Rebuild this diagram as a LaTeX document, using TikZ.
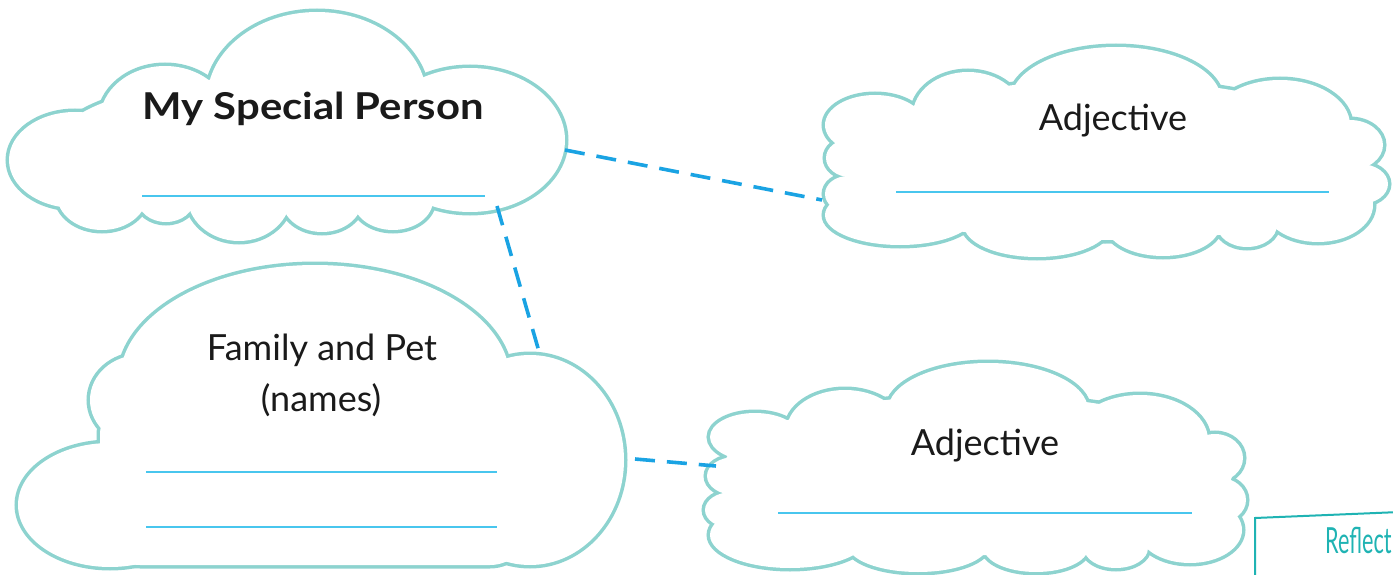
\documentclass[tikz,border=0pt]{standalone}
\usepackage{fontspec}
\setmainfont{Lato}
\usepackage{graphicx}
\definecolor{cloudc}{HTML}{8DD3CF}
\definecolor{dashc}{HTML}{1AA3E3}
\definecolor{rulec}{HTML}{48C6EE}
\definecolor{reflectc}{HTML}{1FB3B3}
\definecolor{inkc}{HTML}{1A1A1A}
\tikzset{
  cloudstroke/.style={draw=cloudc, line width=7pt},
  cloudfill/.style={fill=white},
  conn/.style={draw=dashc, line width=3.6pt, dash pattern=on 20pt off 12pt},
  blank/.style={draw=rulec, line width=2pt},
  lbl/.style={text=inkc, font=\fontsize{36}{40}\selectfont, anchor=base, inner sep=0pt},
  reflectbox/.style={draw=reflectc, line width=2pt},
}
\def\cloudA{317/100/110/88, 165/120/65/54, 75/160/66/48, 470/140/95/72,
  393/200/40/30, 322/200/40/32, 239/195/52/46, 166/200/28/22, 102/195/45/35,
  300/140/240/65}
\def\cloudB{315/380/195/115, 140/400/50/45, 110/505/92/62, 530/460/94/105}
\def\cloudC{968/115/55/43, 1116/100/105/53, 1280/125/70/45, 875/125/50/30,
  850/158/24/19, 848/194/23/18, 900/215/75/30, 1037/225/73/32, 1163/225/57/31,
  1247/225/30/22, 1318/205/55/37, 1360/184/28/20, 1350/145/33/25, 1105/160/260/80,
  1105/205/220/35}
\def\cloudD{988/410/100/47, 845/430/58/40, 1140/440/68/45, 755/437/45/24,
  735/476/28/19, 732/510/27/18, 790/535/80/33, 918/545/70/27, 1036/548/52/24,
  1116/548/32/20, 1190/530/52/33, 1220/500/26/22, 1215/458/28/24, 978/470/255/75,
  985/525/200/30}
\begin{document}
\begin{tikzpicture}[x=1pt, y=1pt]
\useasboundingbox (0,0) rectangle (1393,-575);
% cloud outlines (union of lobes)
\foreach \cx/\cy/\rx/\ry in \cloudA {\path[cloudstroke] (\cx,-\cy) ellipse [x radius=\rx pt, y radius=\ry pt];}
\foreach \cx/\cy/\rx/\ry in \cloudB {\path[cloudstroke] (\cx,-\cy) ellipse [x radius=\rx pt, y radius=\ry pt];}
\path[cloudstroke, rounded corners=40pt] (100,-395) rectangle (530,-565);
\foreach \cx/\cy/\rx/\ry in \cloudC {\path[cloudstroke] (\cx,-\cy) ellipse [x radius=\rx pt, y radius=\ry pt];}
\foreach \cx/\cy/\rx/\ry in \cloudD {\path[cloudstroke] (\cx,-\cy) ellipse [x radius=\rx pt, y radius=\ry pt];}
% cloud interiors
\foreach \cx/\cy/\rx/\ry in \cloudA {\path[cloudfill] (\cx,-\cy) ellipse [x radius=\rx pt, y radius=\ry pt];}
\foreach \cx/\cy/\rx/\ry in \cloudB {\path[cloudfill] (\cx,-\cy) ellipse [x radius=\rx pt, y radius=\ry pt];}
\path[cloudfill, rounded corners=40pt] (100,-395) rectangle (530,-565);
\foreach \cx/\cy/\rx/\ry in \cloudC {\path[cloudfill] (\cx,-\cy) ellipse [x radius=\rx pt, y radius=\ry pt];}
\foreach \cx/\cy/\rx/\ry in \cloudD {\path[cloudfill] (\cx,-\cy) ellipse [x radius=\rx pt, y radius=\ry pt];}
% texts
\node[lbl, font=\fontsize{37}{40}\selectfont\bfseries] (t1) at (313,-120) {\scalebox{1.13}[1]{My Special Person}};
\node[lbl] (t2a) at (322,-360) {Family and Pet};
\node[lbl] (t2b) at (321,-411) {(names)};
\node[lbl] (t3) at (1113,-131) {Adjective};
\node[lbl] (t4) at (985,-455) {Adjective};
% writing lines
\coordinate (l1a) at (142,-196); \coordinate (l1b) at (485,-196);
\coordinate (l2a) at (146,-472); \coordinate (l2b) at (497,-472);
\coordinate (l3a) at (146,-527); \coordinate (l3b) at (497,-527);
\coordinate (l4a) at (896,-192); \coordinate (l4b) at (1329,-192);
\coordinate (l5a) at (778,-513); \coordinate (l5b) at (1192,-513);
\draw[blank] (l1a) -- (l1b);
\draw[blank] (l2a) -- (l2b);
\draw[blank] (l3a) -- (l3b);
\draw[blank] (l4a) -- (l4b);
\draw[blank] (l5a) -- (l5b);
% connectors
\coordinate (c1r) at (565,-150);
\coordinate (c3l) at (822,-200);
\coordinate (c1b) at (497,-206);
\coordinate (c2t) at (540,-355);
\coordinate (c2r) at (635,-459);
\coordinate (c4l) at (716,-466);
\draw[conn] (c1r) -- (c3l);
\draw[conn] (c1b) -- (c2t);
\draw[conn] (c2r) -- (c4l);
% reflect box (cut by the page edge)
\begin{scope}
\clip (0,0) rectangle (1393,-575);
\coordinate (r1) at (1255,-580);
\coordinate (r2) at (1255,-518);
\coordinate (r3) at (1400,-512);
\draw[reflectbox] (r1) -- (r2) -- (r3);
\end{scope}
\node[anchor=base west, inner sep=0pt, text=reflectc, font=\fontsize{36}{40}\selectfont] (rf) at (1325,-553) {\scalebox{0.6}[1]{Reflect}};
\end{tikzpicture}
\end{document}
